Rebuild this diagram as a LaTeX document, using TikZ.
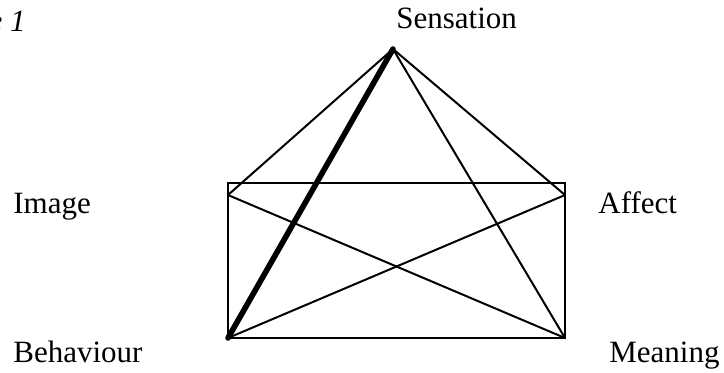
\documentclass[tikz,border=0pt]{standalone}
\usepackage{fontspec}
\setmainfont{Liberation Serif}
\usepackage{tikz}
\usetikzlibrary{positioning}
\tikzset{
    every node/.style={font=\fontsize{15.5}{18}\selectfont, inner sep=0pt},
    lbl/.style={anchor=base west},
    thinline/.style={line width=1pt, black},
    thickline/.style={line width=2.8pt, black, line cap=round},
}

\begin{document}
\begin{tikzpicture}[x=0.5pt, y=-0.5pt]
    \useasboundingbox (0,0) rectangle (724,372);

    % Corner points
    \coordinate (sens) at (393,49);
    \coordinate (img)  at (228,195);
    \coordinate (aff)  at (565,195);
    \coordinate (beh)  at (228,338);
    \coordinate (mean) at (565,338);

    % Box
    \draw[thinline] (228,183) rectangle (565,338);

    % Lines from Sensation
    \draw[thinline] (sens) -- (img);
    \draw[thinline] (sens) -- (aff);
    \draw[thinline] (sens) -- (mean);
    \draw[thickline] (sens) -- (beh);

    % Cross lines
    \draw[thinline] (img) -- (mean);
    \draw[thinline] (aff) -- (beh);

    % Labels
    \node[anchor=base east, font=\fontsize{15.5}{18}\selectfont\itshape] (fig) at (26,31) {Figure 1};
    \node[lbl] (tsens) at (396,28) {Sensation};
    \node[lbl] (timg)  at (13,213) {Image};
    \node[lbl] (taff)  at (598,213) {Affect};
    \node[lbl] (tbeh)  at (13,362) {Behaviour};
    \node[lbl] (tmean) at (609,362) {Meaning};
\end{tikzpicture}
\end{document}
